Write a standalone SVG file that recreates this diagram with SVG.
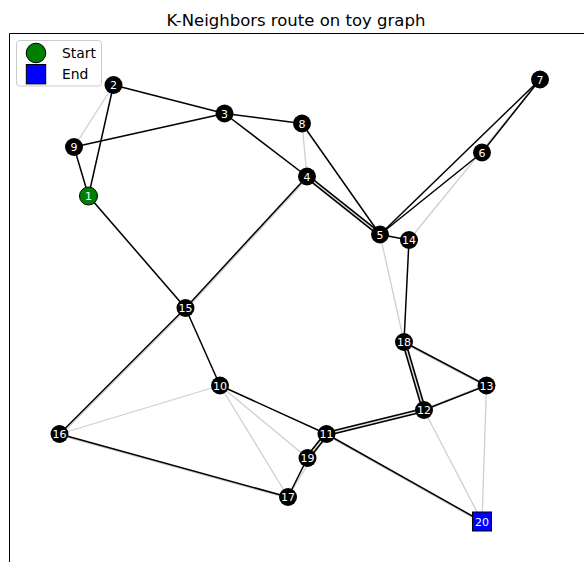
<svg xmlns="http://www.w3.org/2000/svg" width="584" height="562" viewBox="0 0 584 562">
<style>
.t{font-family:"DejaVu Sans",sans-serif;}
.g{stroke:#cfcfcf;stroke-width:1.3;fill:none;}
.b{stroke:#000;stroke-width:1.5;fill:none;}
.d{stroke:#000;stroke-width:4.6;fill:none;}
.di{stroke:#dedede;stroke-width:1.4;fill:none;}
.n{fill:#000;}
.lb{fill:#fff;font-size:11px;text-anchor:middle;font-family:"DejaVu Sans",sans-serif;}
</style>
<rect x="0" y="0" width="584" height="562" fill="#fff"/>
<text class="t" x="296" y="26" font-size="16.5" text-anchor="middle">K-Neighbors route on toy graph</text>
<path d="M9.5 562 V33.5 H584" stroke="#000" stroke-width="1" fill="none"/>
<g id="connectors">
  <g id="base-edges">
    <line class="g" x1="113.5" y1="85" x2="74" y2="147"/>
    <line class="g" x1="302" y1="123.5" x2="307" y2="176.5"/>
    <line class="g" x1="540" y1="79.5" x2="409" y2="240"/>
    <line class="g" x1="380" y1="234.5" x2="404" y2="342"/>
    <line class="g" x1="424" y1="410" x2="482" y2="521.5"/>
    <line class="g" x1="486.5" y1="385.5" x2="482" y2="521.5"/>
    <line class="g" x1="220" y1="385.5" x2="59.5" y2="434"/>
    <line class="g" x1="220" y1="385.5" x2="307.5" y2="458"/>
    <line class="g" x1="220" y1="385.5" x2="288" y2="497"/>
    <line class="g" x1="326.5" y1="434" x2="288" y2="497"/>
    <line class="g" x1="89.5" y1="197" x2="186.5" y2="309"/>
    <line class="g" x1="308" y1="177.5" x2="186.5" y2="309"/>
    <line class="g" x1="186.5" y1="309" x2="60.5" y2="435"/>
    <line class="g" x1="59.5" y1="435.2" x2="288" y2="498.2"/>
    <line class="g" x1="326.5" y1="435.2" x2="482" y2="522.7"/>
    <line class="g" x1="404" y1="343.2" x2="486.5" y2="386.7"/>
    <line class="g" x1="424" y1="409" x2="486.5" y2="384.5"/>
  </g>
  <g id="route-edges">
    <line class="b" x1="88.5" y1="196" x2="113.5" y2="85"/>
    <line class="b" x1="88.5" y1="196" x2="74" y2="147"/>
    <line class="b" x1="74" y1="147" x2="224.5" y2="113.5"/>
    <line class="b" x1="113.5" y1="85" x2="224.5" y2="113.5"/>
    <line class="b" x1="224.5" y1="113.5" x2="302" y2="123.5"/>
    <line class="b" x1="224.5" y1="113.5" x2="307" y2="176.5"/>
    <line class="b" x1="302" y1="123.5" x2="380" y2="234.5"/>
    <line class="b" x1="307" y1="176.5" x2="185.5" y2="308"/>
    <line class="b" x1="88.5" y1="196" x2="185.5" y2="308"/>
    <line class="b" x1="380" y1="234.5" x2="540" y2="79.5"/>
    <line class="b" x1="380" y1="234.5" x2="482" y2="152.5"/>
    <line class="b" x1="482" y1="152.5" x2="540" y2="79.5"/>
    <line class="b" x1="380" y1="234.5" x2="409" y2="240"/>
    <line class="b" x1="409" y1="240" x2="404" y2="342"/>
    <line class="b" x1="404" y1="342" x2="486.5" y2="385.5"/>
    <line class="b" x1="424" y1="410" x2="486.5" y2="385.5"/>
    <line class="b" x1="326.5" y1="434" x2="482" y2="521.5"/>
    <line class="b" x1="185.5" y1="308" x2="220" y2="385.5"/>
    <line class="b" x1="185.5" y1="308" x2="59.5" y2="434"/>
    <line class="b" x1="59.5" y1="434" x2="288" y2="497"/>
    <line class="b" x1="220" y1="385.5" x2="326.5" y2="434"/>
    <line class="b" x1="307.5" y1="458" x2="288" y2="497"/>
    <line class="d" x1="307" y1="176.5" x2="380" y2="234.5"/>
    <line class="di" x1="307" y1="176.5" x2="380" y2="234.5"/>
    <line class="d" x1="404" y1="342" x2="424" y2="410"/>
    <line class="di" x1="404" y1="342" x2="424" y2="410"/>
    <line class="d" x1="424" y1="410" x2="326.5" y2="434"/>
    <line class="di" x1="424" y1="410" x2="326.5" y2="434"/>
    <line class="d" x1="326.5" y1="434" x2="307.5" y2="458"/>
    <line class="di" x1="326.5" y1="434" x2="307.5" y2="458"/>
  </g>
</g>
<g id="node-1"><circle cx="88.5" cy="196" r="9" fill="#008000" stroke="#000" stroke-width="1"/><text class="lb" x="88.5" y="200">1</text></g>
<g id="node-2"><circle class="n" cx="113.5" cy="85" r="9"/><text class="lb" x="113.5" y="89">2</text></g>
<g id="node-3"><circle class="n" cx="224.5" cy="113.5" r="9"/><text class="lb" x="224.5" y="117.5">3</text></g>
<g id="node-4"><circle class="n" cx="307" cy="176.5" r="9"/><text class="lb" x="307" y="180.5">4</text></g>
<g id="node-5"><circle class="n" cx="380" cy="234.5" r="9"/><text class="lb" x="380" y="238.5">5</text></g>
<g id="node-6"><circle class="n" cx="482" cy="152.5" r="9"/><text class="lb" x="482" y="156.5">6</text></g>
<g id="node-7"><circle class="n" cx="540" cy="79.5" r="9"/><text class="lb" x="540" y="83.5">7</text></g>
<g id="node-8"><circle class="n" cx="302" cy="123.5" r="9"/><text class="lb" x="302" y="127.5">8</text></g>
<g id="node-9"><circle class="n" cx="74" cy="147" r="9"/><text class="lb" x="74" y="151">9</text></g>
<g id="node-10"><circle class="n" cx="220" cy="385.5" r="9"/><text class="lb" x="220" y="389.5">10</text></g>
<g id="node-11"><circle class="n" cx="326.5" cy="434" r="9"/><text class="lb" x="326.5" y="438">11</text></g>
<g id="node-12"><circle class="n" cx="424" cy="410" r="9"/><text class="lb" x="424" y="414">12</text></g>
<g id="node-13"><circle class="n" cx="486.5" cy="385.5" r="9"/><text class="lb" x="486.5" y="389.5">13</text></g>
<g id="node-14"><circle class="n" cx="409" cy="240" r="9"/><text class="lb" x="409" y="244">14</text></g>
<g id="node-15"><circle class="n" cx="185.5" cy="308" r="9"/><text class="lb" x="185.5" y="312">15</text></g>
<g id="node-16"><circle class="n" cx="59.5" cy="434" r="9"/><text class="lb" x="59.5" y="438">16</text></g>
<g id="node-17"><circle class="n" cx="288" cy="497" r="9"/><text class="lb" x="288" y="501">17</text></g>
<g id="node-18"><circle class="n" cx="404" cy="342" r="9"/><text class="lb" x="404" y="346">18</text></g>
<g id="node-19"><circle class="n" cx="307.5" cy="458" r="9"/><text class="lb" x="307.5" y="462">19</text></g>
<g id="node-20"><rect x="472.5" y="512" width="19" height="19" fill="#0000ff" stroke="#000" stroke-width="1"/><text class="lb" x="482" y="525.5">20</text></g>
<g id="legend">
  <rect x="16.5" y="40.5" width="85" height="45.5" rx="3" fill="#fff" fill-opacity="0.8" stroke="#cccccc" stroke-width="1"/>
  <circle cx="36" cy="53" r="9.8" fill="#008000" stroke="#000" stroke-width="1"/>
  <rect x="26.3" y="64.5" width="19.4" height="19.4" fill="#0000ff" stroke="#000" stroke-width="1"/>
  <text class="t" x="62" y="57.5" font-size="13.9">Start</text>
  <text class="t" x="62" y="78.5" font-size="13.9">End</text>
</g>
</svg>
